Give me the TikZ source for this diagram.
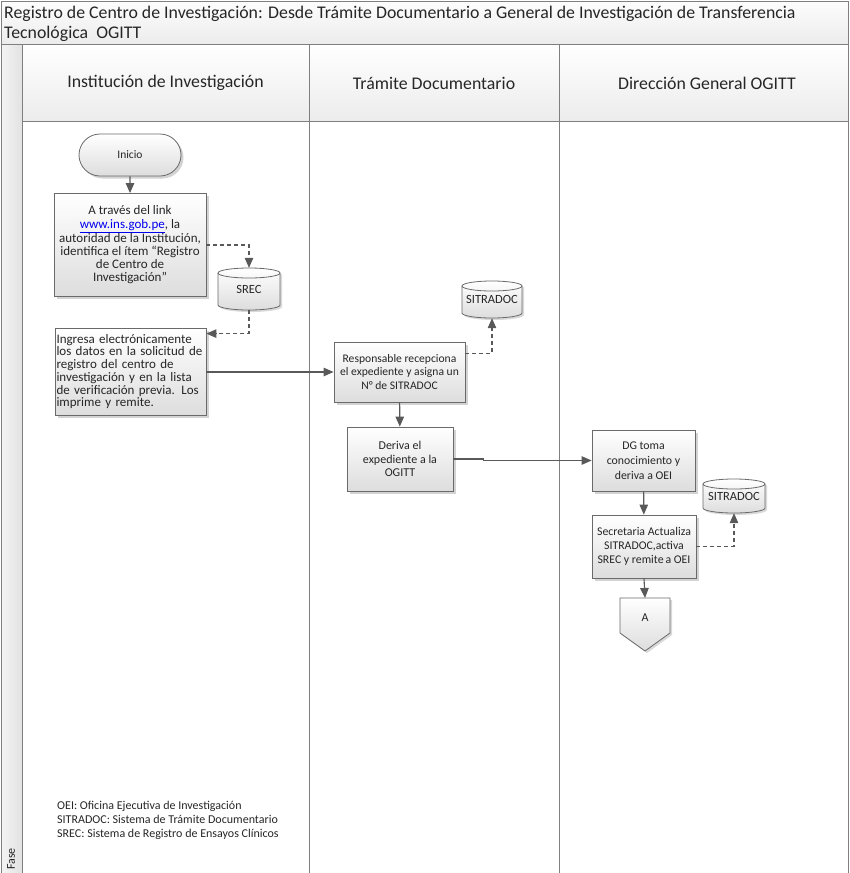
\documentclass[tikz,border=0pt]{standalone}
\usepackage{fontspec}
\setmainfont{Carlito}
\usetikzlibrary{arrows.meta,shadows,shapes.misc,calc}

\definecolor{frameline}{HTML}{7F7F7F}
\definecolor{boxline}{HTML}{6A6A6A}
\definecolor{conn}{HTML}{595959}
\definecolor{boxtop}{HTML}{FFFFFF}
\definecolor{boxbot}{HTML}{DDDDDD}
\definecolor{bandtop}{HTML}{FDFDFD}
\definecolor{bandbot}{HTML}{ECECEC}
\definecolor{fasel}{HTML}{F4F4F4}
\definecolor{faser}{HTML}{E2E2E2}
\definecolor{txt}{HTML}{262626}
\definecolor{linkblue}{HTML}{0000EE}

% database cylinder: name, x0, y0, x1, y1, label
\newcommand{\dbcyl}[6]{%
  \pgfmathsetmacro{\cx}{(#2+#4)/2}%
  \pgfmathsetmacro{\rx}{(#4-#2)/2}%
  \draw[boxline, line width=0.8pt, top color=boxtop, bottom color=boxbot,
        drop shadow={shadow xshift=2pt, shadow yshift=-2pt, opacity=0.3}]
    (#2,#3+5) -- (#2,#5-5) arc[start angle=180, end angle=0, x radius=\rx, y radius=5]
    -- (#4,#3+5) arc[start angle=0, end angle=-180, x radius=\rx, y radius=5] -- cycle;
  \draw[boxline, line width=0.8pt]
    (#2,#3+5) arc[start angle=180, end angle=0, x radius=\rx, y radius=5];
  \node[inner sep=0pt, minimum width=#4-#2, minimum height=#5-#3,
        font=\fontsize{12.5}{14}\selectfont, text=txt]
    (#1) at (\cx,{(#3+#5)/2}) {\raisebox{-4pt}{#6}};
}

\begin{document}
\begin{tikzpicture}[x=1pt, y=-1pt,
  proc/.style={draw=boxline, line width=0.8pt, top color=boxtop, bottom color=boxbot,
    drop shadow={shadow xshift=2.5pt, shadow yshift=-2.5pt, opacity=0.35},
    align=center, text=txt, inner sep=1pt,
    font=\fontsize{12}{13.6}\selectfont},
  flow/.style={conn, line width=1.1pt, -{Triangle[length=10pt, width=8.5pt]}},
  dflow/.style={conn, line width=1.1pt, dash pattern=on 4pt off 3pt,
    -{Triangle[length=10pt, width=8.5pt]}},
  lane/.style={frameline, line width=0.9pt},
  headtxt/.style={font=\fontsize{17.8}{20}\selectfont, text=txt}
]
\useasboundingbox (0,0) rectangle (849,873);

% ---- pool frame ----
\fill[top color=bandtop, bottom color=bandbot] (1,1) rectangle (848,44);
\fill[top color=white, bottom color=bandbot] (22,44) rectangle (848,121);
\fill[left color=fasel, right color=faser] (1,44) rectangle (22,873);
\draw[lane] (1,873) -- (1,1) -- (848,1) -- (848,873);
\draw[lane] (1,44) -- (848,44);
\draw[lane] (22,121) -- (848,121);
\foreach \lx in {22,309,559} \draw[lane] (\lx,44) -- (\lx,873);

% ---- titles ----
\node[headtxt, anchor=north west, align=left, inner sep=0pt] (title) at (4,6)
  {Registro de Centro de Investigación: Desde Trámite\ Documentario a General de Investigación de Transferencia\\Tecnológica\ \ OGITT};
\node[headtxt] (h1) at (165.5,83) {Institución de Investigación};
\node[headtxt] (h2) at (434,83) {Trámite Documentario};
\node[headtxt] (h3) at (707,83) {Dirección General OGITT};
\node[rotate=90, font=\fontsize{12}{13}\selectfont, text=txt] (fase) at (11,859) {Fase};

% ---- lane 1 ----
\node[proc, rounded rectangle, minimum width=104, minimum height=42,
      font=\fontsize{11.5}{13}\selectfont] (ini) at (130,155) {Inicio};
\node[proc, minimum width=152, minimum height=103,
      font=\fontsize{13}{13.2}\selectfont] (b1) at (130,245)
  {A través del link\\
   {\color{linkblue}\underline{www.ins.gob.pe}},\ la\\
   autoridad de la Institución,\\
   identifica el ítem “Registro\\
   de Centro de\\
   Investigación”};
\dbcyl{srec}{218}{268}{280}{310}{SREC}
\node[proc, minimum width=151, minimum height=87, text width=148, align=left,
      font=\fontsize{13}{12.7}\selectfont] (b2) at (130.5,371.5)
  {Ingresa electrónicamente\\
   \makebox[148pt][s]{los datos en la solicitud de}\\
   registro del centro de\\
   \makebox[148pt][s]{investigación y en la lista}\\
   \makebox[148pt][s]{de verificación previa. Los}\\
   imprime y remite.};

% ---- lane 2 ----
\node[proc, minimum width=131, minimum height=60,
      font=\fontsize{11.6}{13.5}\selectfont] (b3) at (399.5,372)
  {Responsable recepciona\\el expediente y asigna un\\N° de SITRADOC};
\dbcyl{sit1}{462}{281}{522}{318}{SITRADOC}
\node[proc, minimum width=106, minimum height=64,
      font=\fontsize{12}{13.8}\selectfont] (b4) at (400,459)
  {Deriva el\\expediente a la\\OGITT};

% ---- lane 3 ----
\node[proc, minimum width=103, minimum height=61,
      font=\fontsize{11.8}{15}\selectfont] (b5) at (643.5,460.5)
  {DG toma\\conocimiento y\\deriva a OEI};
\node[proc, minimum width=104, minimum height=63,
      font=\fontsize{11.8}{14}\selectfont] (b6) at (644,546.5)
  {Secretaria Actualiza\\SITRADOC,activa\\SREC y remite\,a OEI};
\dbcyl{sit2}{703}{479}{765}{513}{SITRADOC}

% off-page connector
\draw[boxline, line width=0.8pt, top color=boxtop, bottom color=boxbot,
      drop shadow={shadow xshift=2pt, shadow yshift=-2pt, opacity=0.3}]
  (620,598) -- (670,598) -- (670,633) -- (645,651) -- (620,633) -- cycle;
\coordinate (Atop) at (645,598);
\node[font=\fontsize{12}{13}\selectfont, text=txt] (A) at (645,618) {A};

% ---- legend ----
\node[anchor=north west, align=left, inner sep=0pt, text=txt,
      font=\fontsize{12}{14}\selectfont] (legend) at (57,801)
  {OEI: Oficina Ejecutiva de Investigación\\
   SITRADOC: Sistema de Trámite Documentario\\
   SREC: Sistema de Registro de Ensayos Clínicos};

% ---- connectors ----
\draw[flow] (ini) -- (b1);
\draw[dflow] (b1.east) -| (srec.north);
\draw[dflow] (srec.south) |- ([yshift=-6pt]b2.north east);
\draw[flow] (b2.east |- b3.west) -- (b3.west);
\draw[dflow] ([yshift=-12pt]b3.north east) -| (sit1.south);
\draw[flow] (b3) -- (b4);
\draw[flow] (b4.east) -- ++(30,0) |- (b5.west);
\draw[flow] (b5) -- (b6);
\draw[dflow] (b6.east) -| (sit2.south);
\draw[flow] (b6.south) -- (Atop);
\end{tikzpicture}
\end{document}
